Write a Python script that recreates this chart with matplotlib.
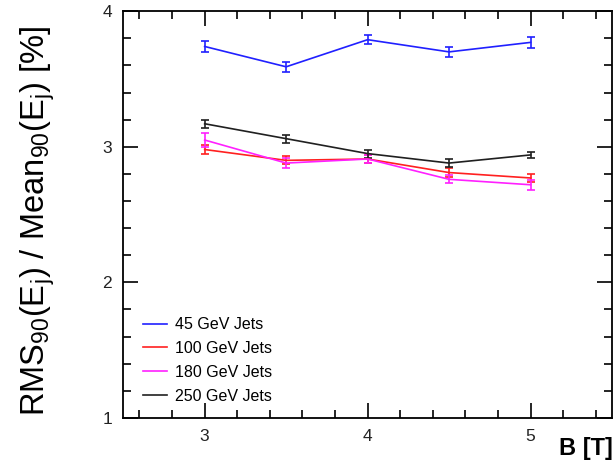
import matplotlib
matplotlib.use("Agg")
import matplotlib.pyplot as plt
from matplotlib.lines import Line2D
from matplotlib.ticker import MultipleLocator

plt.rcParams["font.family"] = ["Liberation Sans", "DejaVu Sans"]
plt.rcParams["mathtext.default"] = "regular"

# jet energy resolution vs solenoid field
field_T = [3.0, 3.5, 4.0, 4.5, 5.0]
res_45 = [3.74, 3.59, 3.79, 3.70, 3.77]
res_100 = [2.98, 2.90, 2.91, 2.81, 2.77]
res_180 = [3.05, 2.88, 2.91, 2.76, 2.72]
res_250 = [3.17, 3.06, 2.95, 2.88, 2.94]
err_45 = [0.04, 0.035, 0.035, 0.035, 0.04]
err_100 = [0.035, 0.03, 0.03, 0.03, 0.03]
err_180 = [0.05, 0.035, 0.03, 0.03, 0.035]
err_250 = [0.03, 0.03, 0.03, 0.03, 0.025]
labels = ["45 GeV Jets", "100 GeV Jets", "180 GeV Jets", "250 GeV Jets"]
colors = ["#2020ff", "#ff2020", "#ff20ff", "#202020"]

fig = plt.figure(figsize=(6.16, 4.67), dpi=100)
ax = fig.add_axes([0.2, 0.105, 0.7935, 0.871])

series = [(res_45, err_45), (res_100, err_100), (res_180, err_180), (res_250, err_250)]
for (vals, errs), c in zip(series, colors):
    ax.errorbar(field_T, vals, yerr=errs, color=c, lw=1.2, elinewidth=1.2,
                capsize=3, capthick=1.2)

ax.set_xlim(2.5, 5.5)
ax.set_ylim(1, 4)
ax.xaxis.set_major_locator(MultipleLocator(1))
ax.xaxis.set_minor_locator(MultipleLocator(0.2))
ax.yaxis.set_major_locator(MultipleLocator(1))
ax.yaxis.set_minor_locator(MultipleLocator(0.2))
ax.tick_params(which="both", direction="in", top=True, right=True, width=1.2,
               labelsize=12.5, labelcolor="#222222", pad=8)
ax.tick_params(which="major", length=11)
ax.tick_params(which="minor", length=6)
for sp in ax.spines.values():
    sp.set_linewidth(1.3)

ax.set_ylabel(r"RMS$_{90}$(E$_{j}$) / Mean$_{90}$(E$_{j}$) [%]", fontsize=23.5)
ax.yaxis.set_label_coords(-0.135, 0.485)
fig.text(0.995, 0.015, "B [T]", fontsize=17, fontweight="bold", ha="right", va="bottom")

handles = [Line2D([], [], color=c, lw=1.2) for c in colors]
ax.legend(handles, labels, loc="lower left", bbox_to_anchor=(0.012, 0.0), frameon=False,
          fontsize=11.5, handlelength=1.5, labelspacing=0.55, handletextpad=0.45)

fig.savefig("out.png", dpi=100)
